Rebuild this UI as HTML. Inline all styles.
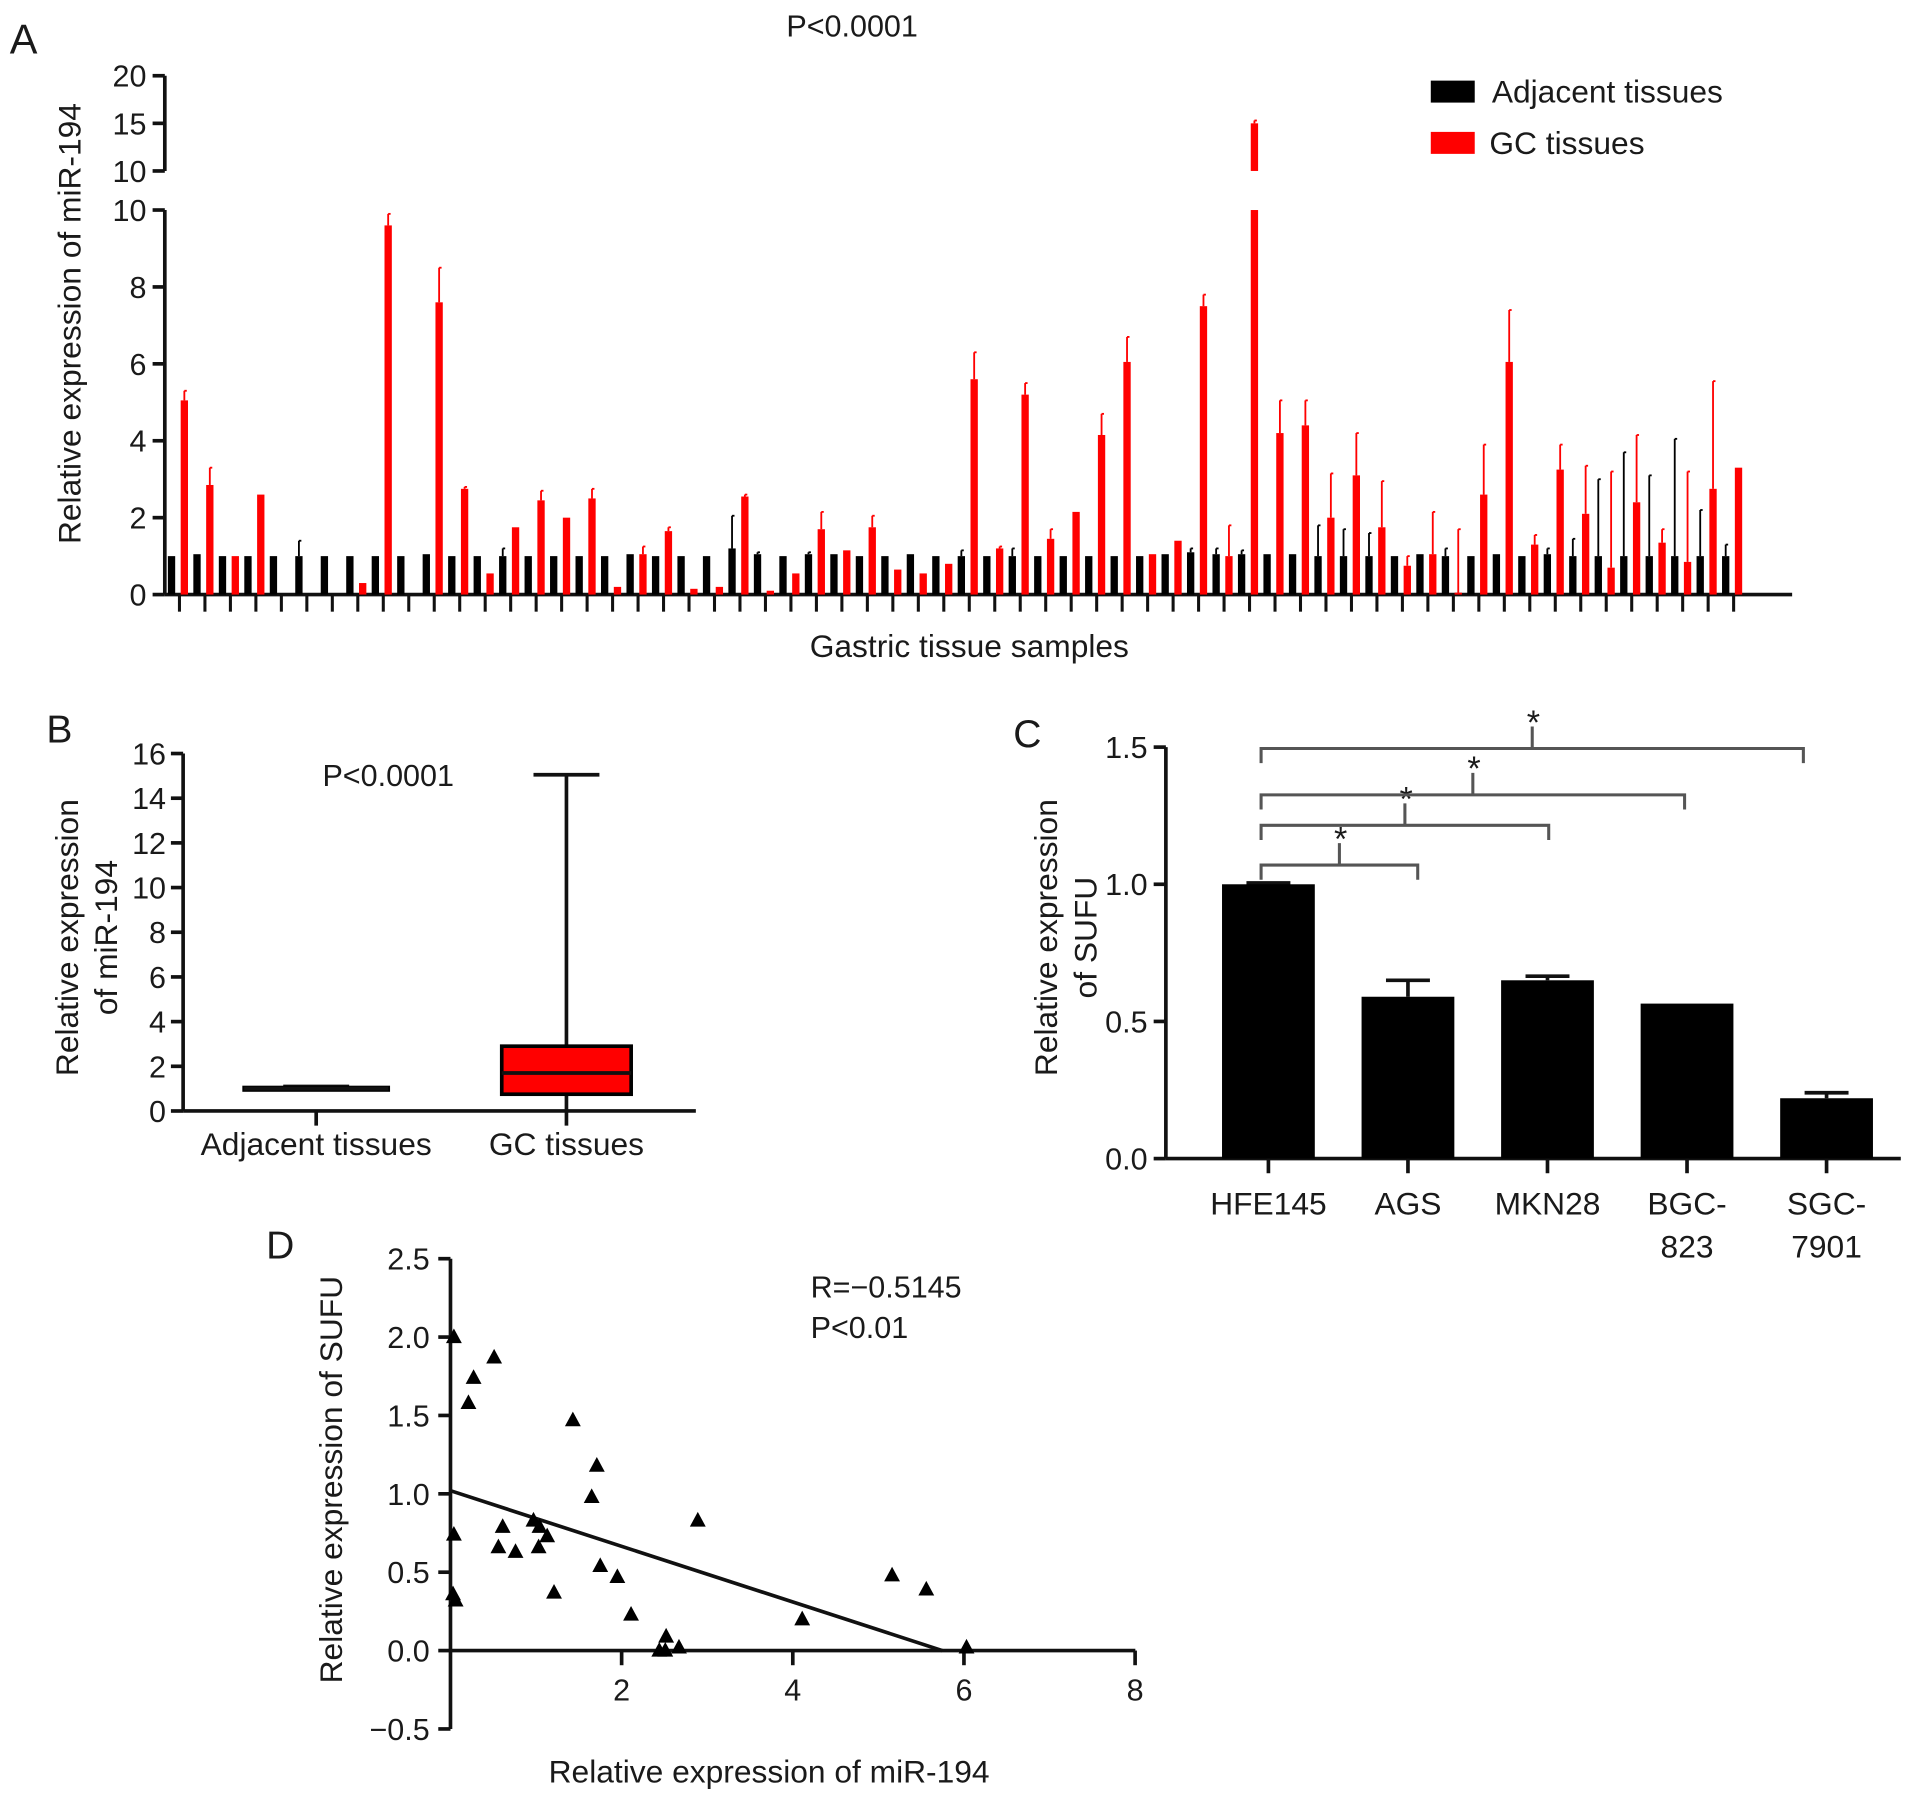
<!DOCTYPE html>
<html><head><meta charset="utf-8"><title>miR-194 and SUFU expression</title>
<style>
html,body{margin:0;padding:0;background:#fff;}
svg{display:block;font-family:"Liberation Sans",Arial,sans-serif;}
text{fill:#1a1a1a;}
</style></head>
<body>
<svg id="fig" width="1913" height="1802" viewBox="0 0 1567 1476" xmlns="http://www.w3.org/2000/svg">
<g id="pA"></g>
<g id="pB"></g>
<g id="pC"></g>
<g id="pD"></g>
</svg>
<script>
// ---- Panel A data ----
const adjVals = [1,1.05,1,1,1,1,1,1,1,1,1.05,1,1,1,1,1,1,1,1.05,1,1,1,1.2,1.05,1,1.05,1.05,1,1,1.05,1,1,1,1,1,1,1,1,1,1.05,1.1,1.05,1.05,1.05,1.05,1,1,1,1,1.05,1,1,1.05,1,1.05,1,1,1,1,1,1,1];
const adjErr  = [1,1.05,1,1,1,1.4,1,1,1,1,1.05,1,1,1.2,1,1,1,1,1.05,1,1,1,2.05,1.1,1,1.1,1.05,1,1,1.05,1,1.15,1,1.2,1,1,1,1,1,1.05,1.2,1.2,1.15,1.05,1.05,1.8,1.7,1.6,1,1.05,1.2,1,1.05,1,1.2,1.45,3.0,3.7,3.1,4.05,2.2,1.3];
const gcVals  = [5.05,2.85,1,2.6,0,0,0,0.3,9.6,0,7.6,2.75,0.55,1.75,2.45,2,2.5,0.2,1.05,1.65,0.15,0.2,2.55,0.1,0.55,1.7,1.15,1.75,0.65,0.55,0.8,5.6,1.2,5.2,1.45,2.15,4.15,6.05,1.05,1.4,7.5,1,15,4.2,4.4,2,3.1,1.75,0.75,1.05,0.05,2.6,6.05,1.3,3.25,2.1,0.7,2.4,1.35,0.85,2.75,3.3];
const gcErr   = [5.3,3.3,1,2.6,0,0,0,0.3,9.9,0,8.5,2.8,0.55,1.75,2.7,2,2.75,0.2,1.25,1.75,0.15,0.2,2.6,0.1,0.55,2.15,1.15,2.05,0.65,0.55,0.8,6.3,1.25,5.5,1.7,2.15,4.7,6.7,1.05,1.4,7.8,1.8,15.3,5.05,5.05,3.15,4.2,2.95,1.0,2.15,1.7,3.9,7.4,1.55,3.9,3.35,3.2,4.15,1.7,3.2,5.55,3.3];
const aTicksLow = [0,2,4,6,8,10];
const aTicksHigh = [10,15,20];
// ---- Panel B data ----
const bCats = ["Adjacent tissues","GC tissues"];
const bMin = [0.95,0];
const bQ1 = [0.95,0.75];
const bMed = [1.0,1.7];
const bQ3 = [1.05,2.9];
const bMax = [1.1,15.05];
const bTicks = [0,2,4,6,8,10,12,14,16];
// ---- Panel C data ----
const cCats = [["HFE145"],["AGS"],["MKN28"],["BGC-","823"],["SGC-","7901"]];
const cVals = [1.0,0.59,0.65,0.565,0.22];
const cErr = [1.005,0.65,0.665,0.565,0.24];
const cTicks = [0,0.5,1.0,1.5];
const cTickLabels = ["0.0","0.5","1.0","1.5"];
const cBrackets = [[0,1],[0,2],[0,3],[0,4]];
const cBracketLevels = [1.07,1.215,1.326,1.495];
// ---- Panel D data ----
const dX = [0.04,0.51,0.27,0.21,1.43,1.71,1.65,2.89,0.04,0.61,0.56,0.76,0.97,1.04,1.13,1.03,1.75,1.95,1.21,2.11,0.03,0.06,2.52,2.44,2.51,2.67,4.11,5.16,5.56,6.03];
const dY = [2.0,1.87,1.74,1.58,1.47,1.18,0.98,0.83,0.74,0.79,0.66,0.63,0.83,0.79,0.73,0.66,0.54,0.47,0.37,0.23,0.36,0.32,0.09,0.0,0.0,0.02,0.2,0.48,0.39,0.02];
const dFit = [1.02,-0.1775]; // intercept, slope
const dXTicks = [2,4,6,8];
const dYTicks = [-0.5,0,0.5,1.0,1.5,2.0,2.5];
const dYTickLabels = ["\u22120.5","0.0","0.5","1.0","1.5","2.0","2.5"];

const NS="http://www.w3.org/2000/svg";
function mk(parent,tag,attrs,txt){const e=document.createElementNS(NS,tag);for(const k in attrs)e.setAttribute(k,attrs[k]);if(txt!==undefined)e.textContent=txt;parent.appendChild(e);return e;}
function line(p,x1,y1,x2,y2,w,c){return mk(p,"line",{x1:x1,y1:y1,x2:x2,y2:y2,stroke:c||"#111","stroke-width":w||3});}

// ================= Panel A =================
const A=document.getElementById("pA");
function yA(v){return v<=10?487-v*31.5:140-(v-10)*7.8;}
function xA(i){return 147+i*20.87;}
let t;
t=mk(A,"text",{x:8,y:44,"font-size":34},"A");

t=mk(A,"text",{x:698,y:30,"font-size":25,"text-anchor":"middle"},"P<0.0001");

line(A,135,487,135,172,3);line(A,135,140,135,62,3);
line(A,135,487,1468,487,3);
aTicksLow.forEach(v=>{line(A,125,yA(v),135,yA(v),3);
 const e=mk(A,"text",{x:120,y:yA(v)+9,"font-size":25,"text-anchor":"end"},String(v));
 });
aTicksHigh.forEach(v=>{const y=v===10?140:yA(v);line(A,125,y,135,y,3);
 const e=mk(A,"text",{x:120,y:y+9,"font-size":25,"text-anchor":"end"},String(v));
 });
t=mk(A,"text",{x:0,y:0,"font-size":26,"text-anchor":"middle",transform:"translate(66,265) rotate(-90)"},"Relative expression of miR-194");

t=mk(A,"text",{x:794,y:538,"font-size":26,"text-anchor":"middle"},"Gastric tissue samples");

function barA(x,v,color,name){
  if(v<=0)return;
  if(v<=10){const r=mk(A,"rect",{x:x,y:yA(v),width:6,height:487-yA(v),fill:color});
    }
  else{const r=mk(A,"rect",{x:x,y:172,width:6,height:315,fill:color});
    
    const r2=mk(A,"rect",{x:x,y:yA(v),width:6,height:140-yA(v),fill:color});
    }
}
function errA(x,v,e,color){ if(e>v+0.02){line(A,x,yA(v),x,yA(e),1.5,color);line(A,x,yA(e),x+2,yA(e),1.5,color);} }
adjVals.forEach((v,i)=>{const x=xA(i);line(A,x,487,x,501,2.5);
  barA(x-9.5,v,"#000",'bar-adjacent');errA(x-6.5,v,adjErr[i],"#000");
  barA(x+1,gcVals[i],"#f00",'bar-gc');errA(x+4,gcVals[i],gcErr[i],"#f00");});
let g=mk(A,"g",{});
mk(g,"rect",{x:1172,y:66,width:36,height:18,fill:"#000"});
mk(g,"text",{x:1222,y:84,"font-size":26},"Adjacent tissues");
g=mk(A,"g",{});
mk(g,"rect",{x:1172,y:108,width:36,height:18,fill:"#f00"});
mk(g,"text",{x:1220,y:126,"font-size":26},"GC tissues");

// ================= Panel B =================
const B=document.getElementById("pB");
function yB(v){return 910-v*18.3;}
const bX=[259,464];
t=mk(B,"text",{x:38,y:608,"font-size":32},"B");
line(B,150,yB(16),150,910,3);line(B,150,910,570,910,3);
bTicks.forEach(v=>{line(B,140,yB(v),150,yB(v),3);
 const e=mk(B,"text",{x:136,y:yB(v)+9,"font-size":25,"text-anchor":"end"},String(v));
 });
t=mk(B,"text",{x:0,y:0,"font-size":26,"text-anchor":"middle",transform:"translate(64,768) rotate(-90)"},"Relative expression");

t=mk(B,"text",{x:0,y:0,"font-size":26,"text-anchor":"middle",transform:"translate(96,768) rotate(-90)"},"of miR-194");

t=mk(B,"text",{x:318,y:644,"font-size":25,"text-anchor":"middle"},"P<0.0001");

bCats.forEach((c,i)=>{const cx=bX[i];line(B,cx,910,cx,922,3);
 const e=mk(B,"text",{x:cx,y:946,"font-size":26,"text-anchor":"middle"},c);
 
 const gg=mk(B,"g",{});
 const hw=i===0?59:53;
 line(gg,cx,yB(bMax[i]),cx,yB(bMin[i]),3);line(gg,cx-27,yB(bMax[i]),cx+27,yB(bMax[i]),3);
 mk(gg,"rect",{x:cx-hw,y:yB(bQ3[i]),width:hw*2,height:Math.max(2,yB(bQ1[i])-yB(bQ3[i])),fill:i===0?"#000":"#f00",stroke:"#000","stroke-width":3});
 line(gg,cx-hw,yB(bMed[i]),cx+hw,yB(bMed[i]),3);});

// ================= Panel C =================
const C=document.getElementById("pC");
function yC(v){return 949-v*224.7;}
const cX0=1039,cStep=114.3;
function xC(i){return cX0+i*cStep;}
const cBracketEndShift=[8,1,-2,-19];
t=mk(C,"text",{x:830,y:612,"font-size":32},"C");
line(C,955,yC(1.5),955,949,3);line(C,955,949,1557,949,3);
cTicks.forEach((v,i)=>{line(C,945,yC(v),955,yC(v),3);
 const e=mk(C,"text",{x:940,y:yC(v)+9,"font-size":25,"text-anchor":"end"},cTickLabels[i]);
 });
t=mk(C,"text",{x:0,y:0,"font-size":26,"text-anchor":"middle",transform:"translate(866,768) rotate(-90)"},"Relative expression");

t=mk(C,"text",{x:0,y:0,"font-size":26,"text-anchor":"middle",transform:"translate(898,768) rotate(-90)"},"of SUFU");

cVals.forEach((v,i)=>{const cx=xC(i);
 if(cErr[i]>v){line(C,cx,yC(v),cx,yC(cErr[i]),3);line(C,cx-18,yC(cErr[i]),cx+18,yC(cErr[i]),3);}
 const r=mk(C,"rect",{x:cx-38,y:yC(v),width:76,height:949-yC(v),fill:"#000"});
 
 line(C,cx,949,cx,961,3);
 cCats[i].forEach((s,k)=>{const e=mk(C,"text",{x:cx,y:995+k*35,"font-size":26,"text-anchor":"middle"},s);
  });});
cBrackets.forEach((b,k)=>{const x1=xC(b[0])-6,x2=xC(b[1])+cBracketEndShift[k],y=yC(cBracketLevels[k]);const mid=(x1+x2)/2;
 const gg=mk(C,"g",{});
 mk(gg,"path",{d:`M${x1},${y+12} L${x1},${y} L${x2},${y} L${x2},${y+12} M${mid},${y} L${mid},${y-18}`,fill:"none",stroke:"#555","stroke-width":2.5});
 mk(gg,"text",{x:mid+1,y:y-12,"font-size":28,"text-anchor":"middle"},"*");});

// ================= Panel D =================
const D=document.getElementById("pD");
function xD(v){return 369+v*70.1;}
function yD(v){return 1352-v*128.4;}
t=mk(D,"text",{x:218,y:1031,"font-size":32},"D");
line(D,369,yD(2.5),369,yD(-0.5),3);line(D,369,1352,930,1352,3);
dYTicks.forEach((v,i)=>{line(D,359,yD(v),369,yD(v),3);
 const e=mk(D,"text",{x:352,y:yD(v)+9,"font-size":25,"text-anchor":"end"},dYTickLabels[i]);
 });
dXTicks.forEach(v=>{line(D,xD(v),1352,xD(v),1364,3);
 const e=mk(D,"text",{x:xD(v),y:1393,"font-size":25,"text-anchor":"middle"},String(v));
 });
t=mk(D,"text",{x:0,y:0,"font-size":26,"text-anchor":"middle",transform:"translate(280,1212) rotate(-90)"},"Relative expression of SUFU");

t=mk(D,"text",{x:630,y:1460,"font-size":26,"text-anchor":"middle"},"Relative expression of miR-194");

t=mk(D,"text",{x:664,y:1063,"font-size":25},"R=\u22120.5145");
t=mk(D,"text",{x:664,y:1096,"font-size":25},"P<0.01");
const xEnd=-dFit[0]/dFit[1];
t=line(D,xD(0),yD(dFit[0]),xD(xEnd),yD(0),3);
dX.forEach((xv,i)=>{const x=xD(xv),y=yD(dY[i]);
 const p=mk(D,"path",{d:`M${x},${y-7} L${x+6.5},${y+5} L${x-6.5},${y+5} Z`,fill:"#000"});
 });
</script>
</body></html>
